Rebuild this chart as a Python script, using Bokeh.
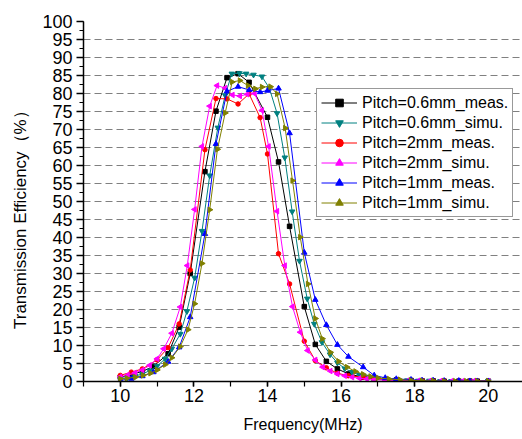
import math
from bokeh.plotting import figure
from bokeh.models import Range1d, FixedTicker, SingleIntervalTicker, Legend, LegendItem, ColumnDataSource
from bokeh.embed import file_html
from bokeh.resources import INLINE

# ---- data ----
f_06_meas = [10.0, 10.3, 10.6, 10.9, 11.3, 11.6, 11.9, 12.3, 12.6, 12.9, 13.2, 13.5, 14.0, 14.3, 14.6,
             15.0, 15.3, 15.6, 15.9, 16.2, 16.6, 16.9, 17.2, 17.5, 17.9, 18.2, 18.5, 18.8, 19.2, 19.5, 19.7, 20.0]
v_06_meas = [1.2, 1.9, 2.8, 4.2, 7.7, 15.1, 30.0, 58.3, 75.1, 84.4, 85.5, 83.1, 73.4, 61.0, 43.1,
             20.8, 10.3, 5.6, 3.5, 2.1, 1.2, 0.8, 0.5, 0.4, 0.3, 0.2, 0.2, 0.1, 0.1, 0.1, 0.1, 0.1]

f_06_simu = [10.0, 10.2, 10.4, 10.6, 10.8, 11.0, 11.22, 11.4, 11.63, 11.81, 12.02, 12.22, 12.43, 12.65, 12.85,
             13.03, 13.24, 13.42, 13.62, 13.85, 14.05, 14.26, 14.47, 14.67, 14.87, 15.08, 15.27, 15.48, 15.7,
             15.9, 16.1, 16.3, 16.5, 16.7, 16.9, 17.2, 17.5, 17.8, 18.1, 18.4, 18.7, 19.0, 19.3, 19.6, 20.0]
v_06_simu = [0.8, 1.1, 1.5, 2.1, 3.0, 4.3, 6.3, 9.1, 13.2, 19.5, 28.8, 41.8, 57.2, 70.5, 79.5,
             85.5, 85.6, 85.5, 85.2, 84.7, 81.5, 74.5, 62.2, 47.2, 33.5, 23.0, 16.0, 10.9, 7.5,
             5.2, 3.6, 2.6, 1.8, 1.3, 0.9, 0.6, 0.4, 0.3, 0.2, 0.2, 0.1, 0.1, 0.1, 0.1, 0.1]

f_2_meas = [10.0, 10.3, 10.6, 11.0, 11.3, 11.6, 11.9, 12.3, 12.6, 12.9, 13.2, 13.5, 13.8, 14.0, 14.3, 14.6,
            15.0, 15.3, 15.6, 15.9, 16.2, 16.6, 16.9, 17.2, 17.5, 17.9, 18.2, 18.5, 18.8, 19.2, 19.5, 19.7, 20.0]
v_2_meas = [1.7, 2.6, 3.5, 6.0, 9.4, 16.0, 31.0, 64.4, 78.6, 78.5, 77.1, 79.9, 73.3, 63.2, 35.5, 27.1,
            11.2, 5.8, 3.8, 2.3, 1.6, 1.2, 0.8, 0.6, 0.4, 0.3, 0.3, 0.2, 0.2, 0.1, 0.1, 0.1, 0.1]

f_2_simu = [10.0, 10.2, 10.4, 10.6, 10.8, 11.0, 11.18, 11.4, 11.63, 11.82, 12.02, 12.22, 12.43, 12.63, 12.85,
            13.05, 13.25, 13.45, 13.65, 13.85, 14.03, 14.26, 14.47, 14.68, 14.89, 15.09, 15.3, 15.5, 15.71,
            15.9, 16.1, 16.3, 16.5, 16.7, 16.9, 17.2, 17.5, 17.8, 18.1, 18.4, 18.7, 19.0, 19.3, 19.6, 20.0]
v_2_simu = [1.3, 1.8, 2.4, 3.2, 4.5, 6.3, 9.1, 13.4, 20.7, 32.2, 47.8, 65.3, 76.5, 82.2, 81.5,
            79.6, 79.3, 79.8, 80.0, 75.3, 65.3, 47.3, 32.2, 20.8, 13.7, 8.6, 6.0, 4.0, 2.9,
            2.1, 1.6, 1.2, 0.9, 0.7, 0.5, 0.4, 0.3, 0.2, 0.2, 0.1, 0.1, 0.1, 0.1, 0.1, 0.1]

f_1_meas = [10.0, 10.3, 10.6, 10.9, 11.3, 11.6, 11.9, 12.3, 12.6, 12.9, 13.2, 13.5, 13.8, 14.0, 14.3, 14.6,
            15.0, 15.3, 15.6, 15.9, 16.2, 16.6, 16.9, 17.2, 17.5, 17.9, 18.2, 18.5, 18.8, 19.2, 19.5, 19.7, 20.0]
v_1_meas = [0.3, 0.8, 1.5, 2.6, 5.5, 9.5, 17.9, 41.0, 66.0, 80.6, 81.9, 81.0, 80.4, 80.8, 81.4, 69.0,
            35.8, 22.7, 15.7, 10.2, 6.9, 4.0, 1.7, 1.0, 0.7, 0.5, 0.3, 0.3, 0.2, 0.2, 0.1, 0.1, 0.1]

f_1_simu = [10.0, 10.18, 10.41, 10.62, 10.82, 11.0, 11.22, 11.4, 11.63, 11.84, 12.02, 12.22, 12.43, 12.64, 12.85,
            13.04, 13.25, 13.47, 13.67, 13.85, 14.08, 14.26, 14.48, 14.68, 14.89, 15.1, 15.3, 15.49, 15.71,
            15.93, 16.16, 16.39, 16.6, 16.8, 17.0, 17.3, 17.6, 17.9, 18.2, 18.5, 18.8, 19.1, 19.4, 19.7, 20.0]
v_1_simu = [0.75, 0.9, 1.2, 1.7, 2.3, 3.2, 4.7, 6.6, 9.7, 14.4, 21.6, 32.8, 47.7, 64.5, 74.6,
            83.2, 83.6, 82.2, 81.3, 81.8, 81.9, 79.9, 70.4, 55.8, 40.1, 27.1, 17.5, 11.9, 8.1,
            5.6, 4.0, 2.8, 2.0, 1.4, 1.0, 0.7, 0.5, 0.3, 0.2, 0.2, 0.1, 0.1, 0.1, 0.1, 0.1]

labels = ["Pitch=0.6mm_meas.", "Pitch=0.6mm_simu.", "Pitch=2mm_meas.",
          "Pitch=2mm_simu.", "Pitch=1mm_meas.", "Pitch=1mm_simu."]
series_x = [f_06_meas, f_06_simu, f_2_meas, f_2_simu, f_1_meas, f_1_simu]
series_y = [v_06_meas, v_06_simu, v_2_meas, v_2_simu, v_1_meas, v_1_simu]
colors = ["#000000", "#008080", "#FF0000", "#FF00FF", "#0000FF", "#808000"]
markers = ["square", "inverted_triangle", "circle", "triangle", "triangle", "triangle"]
angles_deg = [0, 0, 0, 90, 0, -90]
sizes = [4.5, 5.5, 4.5, 5.5, 5.5, 5.5]

y_ticks_grid = list(range(5, 100, 5))

FONT = "Liberation Sans"

p = figure(width=522, height=439, output_backend="svg", toolbar_location=None,
           x_range=Range1d(9, 20.93), y_range=Range1d(0, 100),
           min_border_left=83, min_border_right=0, min_border_top=21, min_border_bottom=58)
p.outline_line_color = None
p.background_fill_color = "white"

p.xgrid.visible = False
p.ygrid.ticker = FixedTicker(ticks=y_ticks_grid)
p.ygrid.grid_line_color = "#808080"
p.ygrid.grid_line_dash = "7 4"
p.ygrid.grid_line_width = 1

p.xaxis.ticker = SingleIntervalTicker(interval=2, num_minor_ticks=2)
p.yaxis.ticker = SingleIntervalTicker(interval=5, num_minor_ticks=2)

for ax in (p.xaxis, p.yaxis):
    ax.axis_line_color = "black"
    ax.axis_line_width = 1.5
    ax.major_tick_line_color = "black"
    ax.major_tick_line_width = 1.5
    ax.minor_tick_line_color = "black"
    ax.minor_tick_line_width = 1.2
    ax.major_tick_in = 0
    ax.minor_tick_in = 0
    ax.major_label_text_font = FONT
    ax.major_label_text_color = "black"
    ax.axis_label_text_font = FONT
    ax.axis_label_text_font_style = "normal"
    ax.axis_label_text_color = "black"

p.xaxis.major_tick_out = 5
p.xaxis.minor_tick_out = 5
p.xaxis.major_label_text_font_size = "18px"
p.xaxis.major_label_standoff = 2
p.xaxis.axis_label = "Frequency(MHz)"
p.xaxis.axis_label_text_font_size = "16px"
p.xaxis.axis_label_standoff = 11

p.yaxis.major_tick_out = 7
p.yaxis.minor_tick_out = 4
p.yaxis.major_label_text_font_size = "18px"
p.yaxis.major_label_standoff = 4
p.yaxis.axis_label = "Transmission Efficiency（%）" + "\u00a0" * 6
p.yaxis.axis_label_text_font_size = "17px"
p.yaxis.axis_label_standoff = 9

items = []
for xs, ys, c, m, a, s, lab in zip(series_x, series_y, colors, markers, angles_deg, sizes, labels):
    src = ColumnDataSource(dict(x=xs, y=ys, ang=[a] * len(xs)))
    ln = p.line("x", "y", source=src, line_color=c, line_width=1)
    sc = p.scatter("x", "y", source=src, marker=m, size=s, angle="ang", angle_units="deg",
                   fill_color=c, line_color=c)
    items.append(LegendItem(label=lab, renderers=[ln, sc]))

legend = Legend(items=items, location=(233, 164))
legend.label_text_font = FONT
legend.label_text_font_size = "16px"
legend.label_text_color = "black"
legend.label_height = 19
legend.glyph_height = 19
legend.glyph_width = 36
legend.label_standoff = 5
legend.spacing = 1
legend.padding = 4
legend.margin = 0
legend.border_line_color = "#333333"
legend.border_line_width = 1.5
legend.background_fill_color = "white"
legend.background_fill_alpha = 1.0
p.add_layout(legend)

open("out.html", "w").write(file_html(p, INLINE))
